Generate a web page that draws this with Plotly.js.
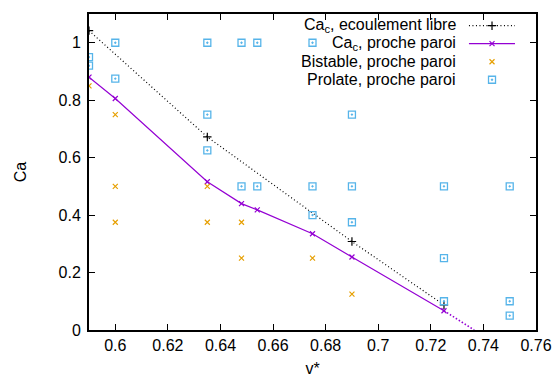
<!DOCTYPE html>
<html><head><meta charset="utf-8">
<script src="https://cdn.plot.ly/plotly-3.0.1.min.js"></script>
<style>html,body{margin:0;padding:0;background:#fff}#c{width:557px;height:378px}</style>
</head><body><div id="c"></div>
<script>
// Ca_c, ecoulement libre
const libreV  = [0.59, 0.635, 0.69, 0.725];
const libreCa = [1.042, 0.672, 0.308, 0.087];
// Ca_c, proche paroi
const paroiV  = [0.59, 0.6, 0.635, 0.648, 0.654, 0.675, 0.69, 0.725];
const paroiCa = [0.88, 0.806, 0.516, 0.44, 0.418, 0.335, 0.254, 0.067];
// extrapolation of proche paroi to Ca = 0
const paroiExtV  = [0.725, 0.7365];
const paroiExtCa = [0.067, 0.0];
// Bistable, proche paroi
const bistV  = [0.59, 0.6, 0.6, 0.6, 0.635, 0.635, 0.648, 0.648, 0.675, 0.69];
const bistCa = [0.85, 0.75, 0.5, 0.375, 0.5, 0.375, 0.375, 0.25, 0.25, 0.125];
// Prolate, proche paroi
const prolV  = [0.59, 0.59, 0.6, 0.6, 0.635, 0.635, 0.635, 0.648, 0.648, 0.654, 0.654,
                0.675, 0.675, 0.675, 0.69, 0.69, 0.69, 0.725, 0.725, 0.725, 0.75, 0.75, 0.75];
const prolCa = [0.95, 0.92, 1.0, 0.875, 1.0, 0.75, 0.625, 1.0, 0.5, 1.0, 0.5,
                1.0, 0.5, 0.4, 0.75, 0.5, 0.375, 0.5, 0.25, 0.1, 0.5, 0.1, 0.05];

const legendLabels = ["Ca<sub>c</sub>, ecoulement libre", "Ca<sub>c</sub>, proche paroi",
                      "Bistable, proche paroi", "Prolate, proche paroi"];

const xTicks = [0.6, 0.62, 0.64, 0.66, 0.68, 0.7, 0.72, 0.74, 0.76];
const yTicks = [0, 0.2, 0.4, 0.6, 0.8, 1];

const BLACK = '#000000', PURPLE = '#9400d3', ORANGE = '#e69f00', BLUE = '#56b4e9';
const FONT = 'Liberation Sans, Arial, sans-serif';
const FS = 16;

const xMark = {symbol: 'x-thin-open', size: 5};
const traces = [
  {x: libreV, y: libreCa, mode: 'lines+markers', line: {color: BLACK, dash: '1px,2.5px', width: 1.2},
   marker: {symbol: 'cross-thin-open', size: 6, color: BLACK, line: {width: 1.2, color: BLACK}}},
  {x: paroiV, y: paroiCa, mode: 'lines+markers', line: {color: PURPLE, width: 1.2},
   marker: Object.assign({color: PURPLE}, xMark, {line: {width: 1.2, color: PURPLE}})},
  {x: paroiExtV, y: paroiExtCa, mode: 'lines', line: {color: PURPLE, dash: '1.5px,2px', width: 1.6}},
  {x: bistV, y: bistCa, mode: 'markers',
   marker: Object.assign({color: ORANGE}, xMark, {line: {width: 1.2, color: ORANGE}})},
  {x: prolV, y: prolCa, mode: 'markers',
   marker: {symbol: 'square-open-dot', size: 7, color: BLUE, line: {width: 1.3, color: BLUE}}}
];

// gnuplot style legend (text then sample) on an overlay paper-like axis
const legRowsY = [0.963, 0.906, 0.849, 0.792];
const legTextX = 0.826, legL = 0.850, legR = 0.953, legM = 0.9016;
const annotations = legendLabels.map((t, i) => ({
  xref: 'paper', yref: 'paper', x: legTextX, y: legRowsY[i], xanchor: 'right', yanchor: 'middle',
  text: t, showarrow: false, font: {family: FONT, size: FS, color: '#000'}
}));
const legStyles = [
  {mode: 'lines+markers', line: traces[0].line, marker: traces[0].marker, line_: true},
  {mode: 'lines+markers', line: traces[1].line, marker: traces[1].marker, line_: true},
  {mode: 'markers', marker: traces[3].marker},
  {mode: 'markers', marker: traces[4].marker}
];
legStyles.forEach((s, i) => {
  const t = {xaxis: 'x2', yaxis: 'y2', mode: s.mode, marker: s.marker, cliponaxis: false};
  if (s.line_) { t.x = [legL, legM, legR]; t.y = [legRowsY[i], legRowsY[i], legRowsY[i]]; t.line = s.line;
    t.marker = Object.assign({}, s.marker); t.marker.opacity = [0, 1, 0]; }
  else { t.x = [legM]; t.y = [legRowsY[i]]; }
  traces.push(t);
});

const axCommon = {
  showgrid: false, zeroline: false, showline: true, linecolor: '#000', linewidth: 2, mirror: 'ticks',
  ticks: 'inside', ticklen: 6, tickwidth: 1, tickcolor: '#000',
  tickfont: {family: FONT, size: FS, color: '#000'}
};
const layout = {
  width: 557, height: 378, showlegend: false,
  paper_bgcolor: '#fff', plot_bgcolor: '#fff',
  margin: {l: 89, r: 21, t: 14, b: 48},
  font: {family: FONT, size: FS, color: '#000'},
  xaxis: Object.assign({}, axCommon, {range: [0.59, 0.76], tickvals: xTicks,
    title: {text: 'v*', font: {family: FONT, size: FS}, standoff: 10}}),
  yaxis: Object.assign({}, axCommon, {range: [0, 1.1], tickvals: yTicks, ticklabelstandoff: 3,
    title: {text: 'Ca', font: {family: FONT, size: FS}, standoff: 28}}),
  xaxis2: {overlaying: 'x', range: [0, 1], visible: false, fixedrange: true},
  yaxis2: {overlaying: 'y', range: [0, 1], visible: false, fixedrange: true},
  annotations: annotations
};
Plotly.newPlot('c', traces, layout, {staticPlot: true, displayModeBar: false});
</script></body></html>
